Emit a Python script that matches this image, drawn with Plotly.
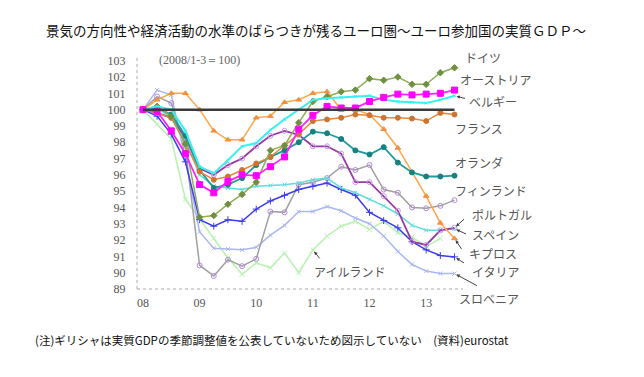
import plotly.graph_objects as go

quarters = list(range(23))  # 2008Q1 .. 2013Q3
year_ticks = [0, 4, 8, 12, 16, 20]
year_labels = ["08", "09", "10", "11", "12", "13"]
y_ticks = list(range(89, 104))

base = [100] * 23
germany = [100, 100.2, 99.6, 97.9, 93.4, 93.5, 94.2, 94.8, 95.55, 97.5, 97.8, 99.2, 100.5, 100.8, 101.1, 101.2, 101.9, 101.8, 102.0, 101.55, 101.55, 102.26, 102.57]
austria = [100, 99.9, 98.7, 97.3, 95.4, 94.9, 95.6, 96.0, 95.95, 96.5, 97.1, 98.8, 99.65, 100.2, 100.1, 100.1, 100.5, 100.75, 100.95, 100.9, 100.95, 101.0, 101.2]
belgium = [100, 100.2, 100.0, 98.7, 96.5, 96.1, 96.9, 97.75, 97.95, 98.75, 99.4, 100.0, 100.6, 100.7, 100.75, 100.8, 100.85, 100.6, 100.5, 100.45, 100.4, 100.6, 100.85]
france = [100, 99.8, 99.5, 97.9, 96.2, 95.7, 95.9, 96.3, 96.7, 97.1, 97.8, 98.5, 99.3, 99.4, 99.5, 99.7, 99.65, 99.5, 99.5, 99.45, 99.3, 99.8, 99.7]
netherlands = [100, 100.1, 99.7, 98.4, 96.3, 95.2, 95.4, 95.8, 96.6, 97.1, 97.5, 98.0, 98.65, 98.55, 98.2, 97.5, 97.25, 97.7, 96.75, 96.15, 95.9, 95.9, 95.95]
finland = [100, 100.8, 100.4, 97.6, 90.45, 89.8, 90.8, 90.4, 90.85, 93.75, 93.7, 95.4, 95.55, 95.8, 96.5, 96.3, 96.6, 95.1, 94.9, 94.0, 93.95, 94.1, 94.45]
portugal = [100, 99.8, 99.5, 98.3, 96.4, 96.0, 96.6, 97.0, 97.75, 98.4, 98.7, 98.45, 97.75, 97.75, 97.3, 95.55, 95.55, 94.7, 93.8, 91.9, 91.7, 92.6, 92.75]
spain = [100, 100.1, 99.5, 98.1, 96.0, 95.3, 95.2, 95.1, 95.3, 95.35, 95.4, 95.5, 95.7, 95.8, 95.2, 94.9, 94.5, 94.1, 93.6, 92.9, 92.6, 92.6, 92.7]
cyprus = [100, 100.6, 101.0, 101.0, 100.0, 98.7, 98.15, 98.15, 99.5, 99.6, 100.45, 100.6, 101.0, 101.1, 100.0, 100.0, 99.7, 98.8, 97.65, 96.15, 94.7, 93.05, 92.1]
italy = [100, 99.6, 98.5, 96.8, 93.25, 92.85, 93.25, 93.15, 93.9, 94.4, 94.75, 95.1, 95.3, 95.5, 95.1, 94.75, 93.7, 93.2, 92.75, 91.9, 91.4, 91.05, 90.97]
slovenia = [100, 101.2, 100.9, 97.0, 92.5, 91.5, 91.45, 91.4, 91.55, 92.3, 92.9, 93.75, 93.75, 94.05, 93.8, 93.35, 93.0, 92.25, 91.3, 90.5, 90.1, 89.95, 89.95]
ireland = [100, 99.1, 98.2, 94.5, 93.3, 92.1, 90.9, 89.9, 90.6, 90.3, 91.2, 90.0, 91.4, 92.25, 92.85, 93.15, 92.65, 93.15, 92.45, 92.2, 91.6, 92.1, None]

fig = go.Figure()

def add(y, color, width=1.5, symbol="circle", msize=5, mcolor=None):
    fig.add_trace(go.Scatter(
        x=quarters, y=y, mode="lines+markers",
        line=dict(color=color, width=width),
        marker=dict(symbol=symbol, size=msize, color=mcolor or color,
                    line=dict(color=mcolor or color, width=1)),
        showlegend=False, hoverinfo="skip", connectgaps=False))

add(ireland, "#b6f2ae", 1.5, "x-thin", 5, "#b6f2ae")
add(slovenia, "#aab6f2", 1.5, "x-thin", 4, "#aab6f2")
add(finland, "#a0a0a0", 1.5, "circle-open", 5, "#b48ad6")
add(italy, "#3c3cf0", 1.5, "cross-thin", 5, "#3c3cf0")
add(spain, "#5fdcdc", 1.5, "x-thin", 4, "#5fdcdc")
add(portugal, "#9a38aa", 1.8, "circle-open", 5, "#c29ae0")
add(cyprus, "#ffa54a", 1.5, "triangle-up", 5, "#f09040")
add(netherlands, "#1f9c9c", 1.8, "circle", 5, "#178080")
add(france, "#e58a3c", 1.5, "circle", 5, "#cf7430")
add(germany, "#8fae58", 1.5, "diamond", 5, "#6f9040")
add(belgium, "#38f0f0", 2.0, "x-thin", 3, "#38f0f0")
add(austria, "#ff22ff", 1.8, "square", 6, "#ff00ff")
fig.add_trace(go.Scatter(x=quarters, y=base, mode="lines",
                         line=dict(color="#3a3a3a", width=2.5),
                         showlegend=False, hoverinfo="skip"))

jp = "Noto Sans CJK JP"
lab_font = dict(family=jp, size=12, color="#555555")

# page body has an 8px margin: design in screenshot pixels, figure offset by 8
OFF = 8
FW, FH = 628, 361
L, T, W, H = 137, 55, 326, 234   # plot area in screenshot pixels

def px2paper(px, py):
    return (px - L) / W, (T + H - py) / H

labels = [
    ("ドイツ", 463, 58), ("オーストリア", 458, 80), ("ベルギー", 467, 102),
    ("フランス", 453, 128), ("オランダ", 453, 162), ("フィンランド", 453, 190),
    ("ポルトガル", 470, 214), ("スペイン", 470, 235), ("キプロス", 467, 253),
    ("イタリア", 470, 271), ("スロベニア", 457, 298), ("アイルランド", 312, 271),
]
for t, px, py in labels:
    xp, yp = px2paper(px, py)
    fig.add_annotation(xref="paper", yref="paper", x=xp, y=yp, text=t,
                       showarrow=False, xanchor="left", yanchor="middle",
                       font=lab_font)

arrows = [
    (22, belgium[22], 12, 3),
    (22, portugal[22], 11, -10),
    (22, spain[22], 13, 6),
    (22, cyprus[22], 8, 12),
    (22, italy[22], 11, 7),
    (22, slovenia[22], 24, 13),
    (12, ireland[12], 8, 10),
]
for x, y, ax, ay in arrows:
    fig.add_annotation(x=x, y=y, text="", showarrow=True, ax=ax, ay=ay,
                       arrowhead=2, arrowsize=0.7, arrowwidth=1,
                       arrowcolor="#444444", standoff=2)

xp, yp = px2paper(157, 60)
fig.add_annotation(xref="paper", yref="paper", x=xp, y=yp, text="(2008/1-3＝100)",
                   showarrow=False, xanchor="left", yanchor="middle",
                   font=dict(family="Liberation Serif", size=12, color="#666666"))

xp, yp = px2paper(33, 340)
fig.add_annotation(xref="paper", yref="paper", x=xp, y=yp,
                   xanchor="left", yanchor="middle", showarrow=False,
                   text="(注)ギリシャは実質GDPの季節調整値を公表していないため図示していない　(資料)eurostat",
                   font=dict(family=jp, size=11.5, color="#111111"))

fig.update_layout(
    width=FW, height=FH,
    margin=dict(l=L - OFF, r=FW - (L - OFF) - W, t=T - OFF, b=FH - (T - OFF) - H),
    paper_bgcolor="white", plot_bgcolor="white",
    title=dict(text="景気の方向性や経済活動の水準のばらつきが残るユーロ圏～ユーロ参加国の実質ＧＤＰ～",
               x=(316 - OFF) / FW, xanchor="center",
               y=1 - (31 - OFF) / FH, yanchor="middle",
               font=dict(family=jp, size=13.5, color="#111111")),
    xaxis=dict(range=[-0.42, 22.6], tickvals=year_ticks, ticktext=year_labels,
               showgrid=False, zeroline=False, showline=False,
               ticks="outside", ticklen=3, tickcolor="rgba(0,0,0,0)",
               tickfont=dict(family="Liberation Serif", size=12, color="#555555")),
    yaxis=dict(range=[89.0, 103.35], tickvals=y_ticks,
               showgrid=False, zeroline=False, showline=False,
               ticks="outside", ticklen=8, tickcolor="rgba(0,0,0,0)",
               tickfont=dict(family="Liberation Serif", size=12, color="#555555")),
    shapes=[
        dict(type="line", xref="paper", yref="paper", x0=0, x1=0, y0=0, y1=1,
             line=dict(color="#aaaaaa", width=1, dash="dot")),
        dict(type="line", xref="paper", yref="paper", x0=0, x1=1, y0=0, y1=0,
             line=dict(color="#aaaaaa", width=1, dash="dot")),
    ],
)

fig.write_html("out.html")
